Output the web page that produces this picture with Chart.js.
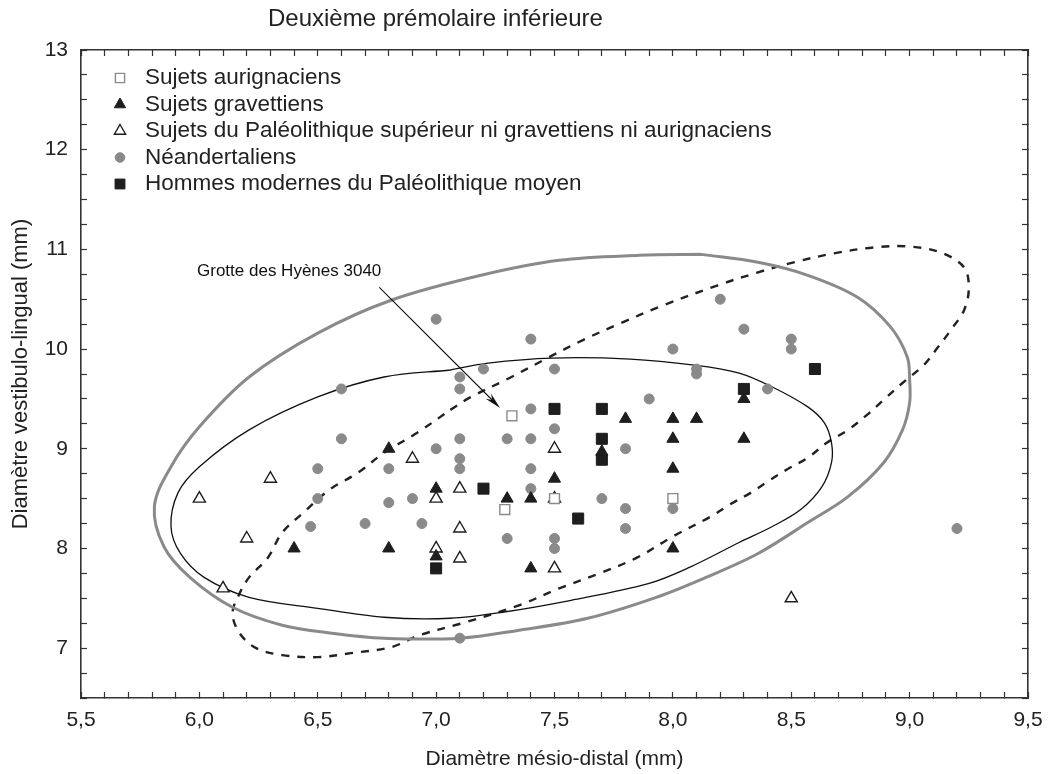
<!DOCTYPE html>
<html>
<head>
<meta charset="utf-8">
<script src="https://cdn.jsdelivr.net/npm/chart.js@4.4.0/dist/chart.umd.min.js"></script>
<style>
body { margin: 0; background: #fff; }
</style>
</head>
<body>
<canvas id="myChart" width="1050" height="774"></canvas>
<script>
const chartTitle = 'Deuxième prémolaire inférieure';
const xTitle = 'Diamètre mésio-distal (mm)';
const yTitle = 'Diamètre vestibulo-lingual (mm)';
const seriesNames = [
	'Sujets aurignaciens',
	'Sujets gravettiens',
	'Sujets du Paléolithique supérieur ni gravettiens ni aurignaciens',
	'Néandertaliens',
	'Hommes modernes du Paléolithique moyen'
];

// [mésio-distal, vestibulo-lingual]
const aurignaciens = [[7.32, 9.33], [7.29, 8.39], [7.5, 8.5], [8.0, 8.5]];
const gravettiens = [
	[6.4, 8.0], [6.8, 8.0], [6.8, 9.0], [7.0, 8.6], [7.0, 7.92], [7.3, 8.5],
	[7.4, 8.5], [7.5, 8.7], [7.4, 7.8], [7.7, 8.97], [7.8, 9.3], [8.0, 9.3],
	[8.1, 9.3], [8.0, 9.1], [8.0, 8.8], [8.0, 8.0], [8.3, 9.1], [8.3, 9.5]
];
const autresPalSup = [
	[6.0, 8.5], [6.1, 7.6], [6.2, 8.1], [6.3, 8.7], [6.9, 8.9], [7.0, 8.5],
	[7.0, 8.0], [7.1, 8.6], [7.1, 8.2], [7.1, 7.9], [7.5, 9.0], [7.5, 8.5],
	[7.5, 7.8], [8.5, 7.5]
];
const neandertaliens = [
	[7.0, 10.3], [6.6, 9.6], [6.6, 9.1], [6.5, 8.8], [6.8, 8.8], [7.0, 9.0],
	[6.5, 8.5], [6.8, 8.46], [6.9, 8.5], [6.47, 8.22], [6.7, 8.25], [6.94, 8.25],
	[7.4, 10.1], [8.0, 10.0], [7.2, 9.8], [7.5, 9.8], [8.1, 9.8], [8.1, 9.75],
	[7.1, 9.72], [7.1, 9.6], [7.4, 9.4], [7.5, 9.2], [7.1, 9.1], [7.3, 9.1],
	[7.4, 9.1], [7.8, 9.0], [7.1, 8.9], [7.1, 8.8], [7.4, 8.8], [7.9, 9.5],
	[7.4, 8.6], [7.7, 8.5], [7.8, 8.4], [8.0, 8.4], [7.8, 8.2], [7.3, 8.1],
	[7.5, 8.1], [7.5, 8.0], [7.1, 7.1], [8.2, 10.5], [8.3, 10.2], [8.5, 10.1],
	[8.5, 10.0], [8.4, 9.6], [9.2, 8.2]
];
const modernesPalMoy = [
	[7.0, 7.8], [7.2, 8.6], [7.5, 9.4], [7.6, 8.3], [7.7, 9.4], [7.7, 9.1],
	[7.7, 8.89], [8.3, 9.6], [8.6, 9.8]
];

// ellipse outlines
const ellipseGris = [
	[8.12, 10.95], [8.36, 10.87], [8.57, 10.74], [8.78, 10.52], [8.92, 10.22], [8.99, 9.92],
	[9.0, 9.69], [9.0, 9.46], [8.97, 9.19], [8.89, 8.86], [8.74, 8.52], [8.57, 8.26],
	[8.36, 7.95], [8.14, 7.71], [7.93, 7.51], [7.64, 7.3], [7.35, 7.18], [7.1, 7.1],
	[6.78, 7.1], [6.56, 7.15], [6.35, 7.23], [6.14, 7.41], [5.96, 7.71], [5.85, 8.02],
	[5.81, 8.42], [5.88, 8.82], [6.0, 9.22], [6.21, 9.72], [6.5, 10.16], [6.81, 10.49],
	[7.19, 10.74], [7.52, 10.89], [7.86, 10.94], [8.12, 10.95]
];
const ellipseNoire = [
	[7.06, 9.79], [7.22, 9.86], [7.49, 9.91], [7.82, 9.9], [8.09, 9.84], [8.28, 9.76],
	[8.42, 9.62], [8.57, 9.42], [8.64, 9.26], [8.67, 9.06], [8.67, 8.86], [8.63, 8.62],
	[8.54, 8.39], [8.42, 8.22], [8.28, 8.06], [8.07, 7.81], [7.9, 7.65], [7.57, 7.48],
	[7.28, 7.36], [7.06, 7.3], [6.78, 7.31], [6.5, 7.4], [6.21, 7.51], [6.02, 7.71],
	[5.92, 7.95], [5.88, 8.22], [5.91, 8.56], [6.0, 8.82], [6.21, 9.19], [6.5, 9.52],
	[6.78, 9.72], [7.06, 9.79]
];
const ellipseTirets = [
	[7.06, 9.39], [7.14, 9.51], [7.31, 9.71], [7.47, 9.91], [7.62, 10.09], [7.78, 10.26],
	[7.95, 10.43], [8.19, 10.64], [8.36, 10.77], [8.51, 10.87], [8.68, 10.96], [8.85, 11.02],
	[8.99, 11.03], [9.13, 10.97], [9.23, 10.82], [9.25, 10.61], [9.23, 10.39], [9.18, 10.21],
	[9.12, 10.02], [9.06, 9.84], [8.97, 9.66], [8.89, 9.49], [8.82, 9.34], [8.74, 9.19],
	[8.65, 9.06], [8.57, 8.91], [8.48, 8.79], [8.4, 8.67], [8.33, 8.56], [8.24, 8.44],
	[8.16, 8.32], [8.0, 8.12], [7.85, 7.91], [7.69, 7.75], [7.52, 7.6], [7.35, 7.43],
	[7.11, 7.25], [6.93, 7.13], [6.81, 7.01], [6.64, 6.95], [6.5, 6.91], [6.35, 6.93],
	[6.24, 7.0], [6.17, 7.15], [6.14, 7.35], [6.17, 7.55], [6.21, 7.71], [6.29, 7.91],
	[6.35, 8.16], [6.44, 8.36], [6.55, 8.59], [6.67, 8.76], [6.78, 8.96], [6.92, 9.16],
	[7.06, 9.39]
];

// annotation: label and arrow pointing at the Grotte des Hyènes tooth
const noteText = 'Grotte des Hyènes 3040';
const notePos = [5.99, 10.78];
const arrowFrom = [6.76, 10.62];
const arrowTo = [7.27, 9.41];

const FONT = '"Liberation Sans", Arial, sans-serif';
const GRIS = '#8a8a8a';
const NOIR = '#1e1e1e';

const pts = arr => arr.map(p => ({x: p[0], y: p[1]}));

const markerStyles = [
	{pointStyle: 'rect', radius: 7, bg: '#fff', border: GRIS, bw: 1.4},
	{pointStyle: 'triangle', radius: 7, bg: NOIR, border: NOIR, bw: 1},
	{pointStyle: 'triangle', radius: 7, bg: '#fff', border: NOIR, bw: 1.4},
	{pointStyle: 'circle', radius: 5, bg: GRIS, border: GRIS, bw: 1},
	{pointStyle: 'rect', radius: 7.8, bg: NOIR, border: NOIR, bw: 1}
];
const seriesData = [aurignaciens, gravettiens, autresPalSup, neandertaliens, modernesPalMoy];

const pointSets = seriesData.map((d, i) => ({
	label: seriesNames[i],
	data: pts(d),
	pointStyle: markerStyles[i].pointStyle,
	pointRadius: markerStyles[i].radius,
	backgroundColor: markerStyles[i].bg,
	borderColor: markerStyles[i].border,
	borderWidth: markerStyles[i].bw,
	showLine: false,
	order: [1, 0, 2, 4, 3][i]
}));

const curve = (data, color, width, dash) => ({
	label: '',
	data: pts(data),
	showLine: true,
	pointRadius: 0,
	borderColor: color,
	borderWidth: width,
	borderDash: dash,
	tension: 0.35,
	fill: false,
	order: 10
});

const ellipseSets = [
	curve(ellipseGris, GRIS, 3, []),
	curve(ellipseNoire, '#111', 1.3, []),
	curve(ellipseTirets, '#222', 2.4, [8, 8])
];

function drawMarker(ctx, s, x, y, r) {
	ctx.beginPath();
	if (s.pointStyle === 'rect') {
		const h = r * Math.SQRT1_2;
		ctx.rect(x - h, y - h, 2 * h, 2 * h);
	} else if (s.pointStyle === 'triangle') {
		ctx.moveTo(x, y - r);
		ctx.lineTo(x + r * 0.866, y + r / 2);
		ctx.lineTo(x - r * 0.866, y + r / 2);
		ctx.closePath();
	} else {
		ctx.arc(x, y, r, 0, Math.PI * 2);
	}
	ctx.fillStyle = s.bg;
	ctx.strokeStyle = s.border;
	ctx.lineWidth = s.bw;
	ctx.fill();
	ctx.stroke();
}

const overlay = {
	id: 'overlay',
	afterDraw(chart) {
		const {ctx, scales: {x, y}} = chart;
		ctx.save();
		ctx.fillStyle = '#222';
		ctx.textBaseline = 'middle';
		ctx.textAlign = 'left';
		ctx.font = '24px ' + FONT;
		ctx.fillText(chartTitle, 268, 19);

		// legend inside the plot
		ctx.font = '22.5px ' + FONT;
		const legendSizes = [6.5, 6.5, 6.5, 4.8, 7];
		seriesNames.forEach((name, i) => {
			const ly = 78 + i * 26.5;
			drawMarker(ctx, markerStyles[i], 120, ly, legendSizes[i]);
			ctx.fillStyle = '#222';
			ctx.fillText(name, 145, ly);
		});

		// note and arrow
		ctx.font = '17px ' + FONT;
		ctx.fillStyle = '#111';
		ctx.fillText(noteText, x.getPixelForValue(notePos[0]), y.getPixelForValue(notePos[1]));
		const x1 = x.getPixelForValue(arrowFrom[0]), y1 = y.getPixelForValue(arrowFrom[1]);
		const x2 = x.getPixelForValue(arrowTo[0]), y2 = y.getPixelForValue(arrowTo[1]);
		const a = Math.atan2(y2 - y1, x2 - x1);
		ctx.strokeStyle = '#111';
		ctx.lineWidth = 1.1;
		ctx.beginPath();
		ctx.moveTo(x1, y1);
		ctx.lineTo(x2 - 8 * Math.cos(a), y2 - 8 * Math.sin(a));
		ctx.stroke();
		ctx.beginPath();
		ctx.moveTo(x2, y2);
		ctx.lineTo(x2 - 17 * Math.cos(a - 0.22), y2 - 17 * Math.sin(a - 0.22));
		ctx.lineTo(x2 - 11 * Math.cos(a), y2 - 11 * Math.sin(a));
		ctx.lineTo(x2 - 17 * Math.cos(a + 0.22), y2 - 17 * Math.sin(a + 0.22));
		ctx.closePath();
		ctx.fillStyle = '#111';
		ctx.fill();
		ctx.restore();
	}
};

const xLabel = v => {
	const t = Math.round(v * 10);
	return t % 5 === 0 ? (t / 10).toFixed(1).replace('.', ',') : '';
};
const yLabel = v => Math.abs(v - Math.round(v)) < 1e-6 ? String(Math.round(v)) : '';

const tickGrid = {drawOnChartArea: false, tickLength: -6, color: '#333', tickWidth: 1.2};
const frame = {display: true, color: '#333', width: 1.6};
const noPad = s => { s.paddingLeft = 0; s.paddingRight = 0; s.paddingTop = 0; s.paddingBottom = 0; };

const ctx = document.getElementById('myChart').getContext('2d');
const myChart = new Chart(ctx, {
	type: 'scatter',
	data: {datasets: [...pointSets, ...ellipseSets]},
	plugins: [overlay],
	options: {
		responsive: false,
		animation: false,
		devicePixelRatio: 1,
		events: [],
		layout: {padding: {left: 0, top: 50, right: 22, bottom: 0}},
		plugins: {legend: {display: false}, tooltip: {enabled: false}, title: {display: false}},
		scales: {
			x: {
				type: 'linear', position: 'bottom', min: 5.5, max: 9.5,
				ticks: {stepSize: 0.1, autoSkip: false, maxRotation: 0, callback: xLabel,
					color: '#222', padding: 16, font: {family: FONT, size: 21}},
				grid: tickGrid, border: frame,
				title: {display: true, text: xTitle, color: '#222', font: {family: FONT, size: 21}, padding: {top: 4, bottom: 2}},
				afterFit: s => { s.height = 76; noPad(s); }
			},
			x2: {
				type: 'linear', position: 'top', min: 5.5, max: 9.5,
				ticks: {stepSize: 0.1, autoSkip: false, display: false},
				grid: tickGrid, border: frame,
				afterFit: s => { s.height = 0; noPad(s); }
			},
			y: {
				type: 'linear', position: 'left', min: 6.5, max: 13,
				ticks: {stepSize: 0.25, autoSkip: false, callback: yLabel,
					color: '#222', padding: 19, font: {family: FONT, size: 21}},
				grid: tickGrid, border: frame,
				title: {display: true, text: yTitle, color: '#222', font: {family: FONT, size: 22}, padding: {top: 8, bottom: 4}},
				afterFit: s => { s.width = 81; noPad(s); }
			},
			y2: {
				type: 'linear', position: 'right', min: 6.5, max: 13,
				ticks: {stepSize: 0.25, autoSkip: false, display: false},
				grid: tickGrid, border: frame,
				afterFit: s => { s.width = 0; noPad(s); }
			}
		}
	}
});
</script>
</body>
</html>
